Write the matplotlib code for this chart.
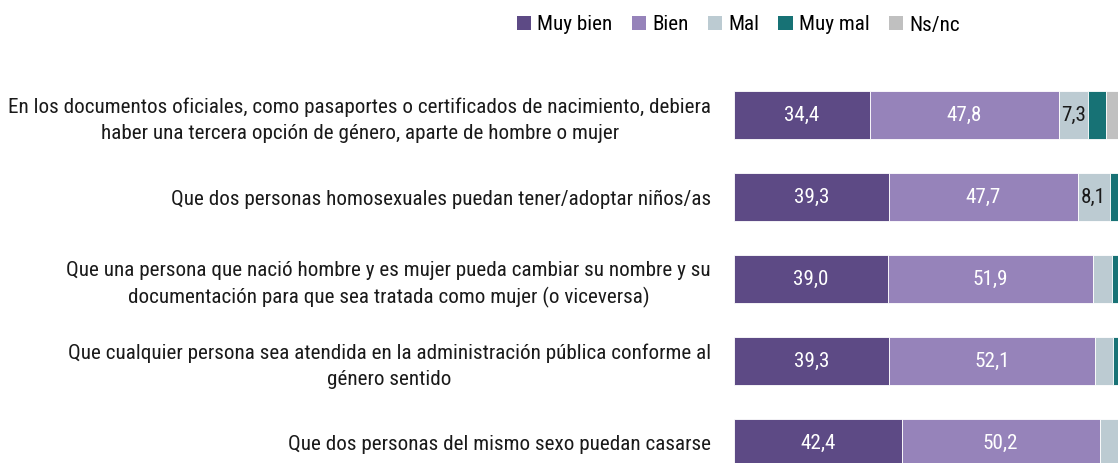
import matplotlib
matplotlib.use("Agg")
import matplotlib.pyplot as plt
from matplotlib.patches import Patch

plt.rcParams['font.family'] = ['Roboto Condensed', 'Roboto', 'DejaVu Sans']

categories = [
    "En los documentos oficiales, como pasaportes o certificados de nacimiento, debiera\nhaber una tercera opción de género, aparte de hombre o mujer",
    "Que dos personas homosexuales puedan tener/adoptar niños/as",
    "Que una persona que nació hombre y es mujer pueda cambiar su nombre y su\ndocumentación para que sea tratada como mujer (o viceversa)",
    "Que cualquier persona sea atendida en la administración pública conforme al\ngénero sentido",
    "Que dos personas del mismo sexo puedan casarse",
]
series_names = ["Muy bien", "Bien", "Mal", "Muy mal", "Ns/nc"]
muy_bien = [34.4, 39.3, 39.0, 39.3, 42.4]
bien = [47.8, 47.7, 51.9, 52.1, 50.2]
mal = [7.3, 8.1, 4.7, 4.6, 4.9]
muy_mal = [4.6, 3.5, 3.0, 2.7, 1.9]
ns_nc = [5.9, 1.4, 1.4, 1.3, 0.6]

colors = ["#5d4a85", "#9683ba", "#bccbd2", "#177275", "#c0c0c0"]
text_colors = ["white", "white", "#1a1a1a", "white", "#1a1a1a"]

W, H = 1118, 463
fig = plt.figure(figsize=(W / 100, H / 100), dpi=100)
left_px = 734
ax = fig.add_axes([left_px / W, 0, 1 - left_px / W, 1])

series = [muy_bien, bien, mal, muy_mal, ns_nc]
ypos = list(range(len(categories)))
lefts = [0.0] * len(categories)
fs = 15.2
for s, vals in enumerate(series):
    ax.barh(ypos, vals, left=lefts, height=0.585, color=colors[s],
            edgecolor="white", linewidth=0.6)
    for i, v in enumerate(vals):
        if v >= 6:
            ax.text(lefts[i] + v / 2, ypos[i], f"{v:.1f}".replace(".", ","),
                    ha="center", va="center", fontsize=fs, color=text_colors[s])
    lefts = [l + v for l, v in zip(lefts, vals)]

ax.set_xlim(0, 97.2)
ax.set_ylim(4.244, -1.402)
ax.set_yticks(ypos)
ax.set_yticklabels(categories, fontsize=fs, color="#1a1a1a", multialignment="center",
                   linespacing=1.42)
ax.tick_params(axis="y", length=0, pad=16.5)
ax.set_xticks([])
for sp in ax.spines.values():
    sp.set_visible(False)

handles = [Patch(facecolor=c, edgecolor="none") for c in colors]
fig.legend(handles, series_names, loc="center", bbox_to_anchor=(738.5 / W, 1 - 25 / H),
           ncol=5, frameon=False, fontsize=fs, handlelength=0.68, handleheight=0.68,
           handletextpad=0.3, columnspacing=0.9, borderaxespad=0, borderpad=0)

fig.savefig("out.png", dpi=100)
